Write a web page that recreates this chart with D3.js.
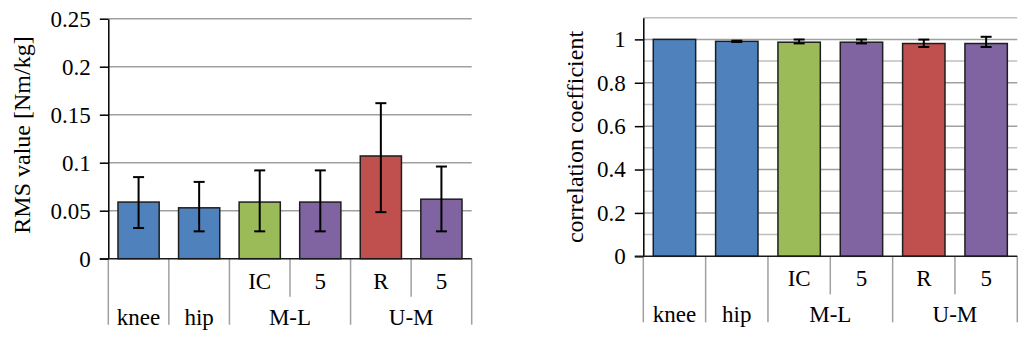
<!DOCTYPE html>
<html>
<head>
<meta charset="utf-8">
<script src="https://cdn.jsdelivr.net/npm/d3@7"></script>
<style>
  html, body { margin: 0; padding: 0; background: #fff; }
  svg { display: block; }
  text { font-family: "Liberation Serif", "Times New Roman", serif; fill: #000; }
</style>
</head>
<body>
<svg id="chart" width="1024" height="337"></svg>
<script>
// ---------- data ----------
const categories   = ["knee", "hip", "M-L IC", "M-L 5", "U-M R", "U-M 5"];
const subLabels    = ["", "", "IC", "5", "R", "5"];
const groupLabels  = ["knee", "hip", "M-L", "U-M"];
const groupSpans   = [1, 1, 2, 2];
const barColors    = ["#4f81bd", "#4f81bd", "#9bbb59", "#8064a2", "#c0504d", "#8064a2"];

// left panel: RMS value [Nm/kg]
const rmsValues    = [0.059, 0.053, 0.059, 0.059, 0.107, 0.062];
const rmsLow       = [0.032, 0.0285, 0.0285, 0.0285, 0.0485, 0.0285];
const rmsHigh      = [0.085, 0.080, 0.092, 0.092, 0.162, 0.096];
const rmsTicks     = [0, 0.05, 0.1, 0.15, 0.2, 0.25];

// right panel: correlation coefficient
const corrValues   = [1.0, 0.991, 0.987, 0.987, 0.981, 0.981];
const corrLow      = [1.0, 0.988, 0.9815, 0.9815, 0.965, 0.965];
const corrHigh     = [1.0, 0.994, 0.9995, 0.9995, 0.999, 1.012];
const corrTicks    = [0, 0.2, 0.4, 0.6, 0.8, 1];
const corrMinor    = [0.1, 0.3, 0.5, 0.7, 0.9, 1.1];

// ---------- drawing ----------
const svg = d3.select("#chart");
const FONT = 23;
const TITLE_FONT = 24;
const FAMILY = "'Liberation Serif', 'Times New Roman', serif";

function panel(opt) {
  const g = svg.append("g");
  const x = d3.scaleBand()
    .domain(d3.range(categories.length))
    .range([opt.x0, opt.x1])
    .paddingInner(0.32)
    .paddingOuter(0.16);
  const y = d3.scaleLinear().domain(opt.domain).range([opt.yZero, opt.yTop]);
  const step = x.step();
  const start = opt.x0;

  // minor gridlines
  if (opt.minor) {
    g.selectAll(".minor").data(opt.minor).join("line")
      .attr("x1", opt.x0).attr("x2", opt.x1)
      .attr("y1", d => y(d)).attr("y2", d => y(d))
      .attr("stroke", "#bfbfbf").attr("stroke-width", 1.5);
  }
  // major gridlines
  g.selectAll(".major").data(opt.ticks.filter(d => d !== 0)).join("line")
    .attr("x1", opt.x0).attr("x2", opt.x1)
    .attr("y1", d => y(d)).attr("y2", d => y(d))
    .attr("stroke", "#a0a0a0").attr("stroke-width", 1.5);

  // category divider lines
  const dividers = d3.range(categories.length + 1);
  const longIdx = [0];
  let acc = 0;
  groupSpans.forEach(s => { acc += s; longIdx.push(acc); });
  g.selectAll(".div").data(dividers).join("line")
    .attr("x1", i => start + i * step).attr("x2", i => start + i * step)
    .attr("y1", opt.yZero)
    .attr("y2", i => opt.yZero + (longIdx.includes(i) ? 66 : 38))
    .attr("stroke", "#a0a0a0").attr("stroke-width", 1.5);

  // bars
  g.selectAll(".bar").data(opt.values).join("rect")
    .attr("x", (d, i) => x(i))
    .attr("width", x.bandwidth())
    .attr("y", d => y(d))
    .attr("height", d => y(0) - y(d))
    .attr("fill", (d, i) => barColors[i])
    .attr("stroke", "#1e1e1e").attr("stroke-width", 1.5);

  // error bars
  const eb = g.selectAll(".eb").data(opt.values.map((v, i) => i)).join("g");
  eb.filter(i => opt.high[i] - opt.low[i] > 0.0005).each(function (i) {
    const e = d3.select(this);
    const cx = x(i) + x.bandwidth() / 2;
    const hw = 5.5;
    e.append("line").attr("x1", cx).attr("x2", cx)
      .attr("y1", y(opt.low[i])).attr("y2", y(opt.high[i]))
      .attr("stroke", "#000").attr("stroke-width", 2);
    [opt.low[i], opt.high[i]].forEach(v => {
      e.append("line").attr("x1", cx - hw).attr("x2", cx + hw)
        .attr("y1", y(v)).attr("y2", y(v))
        .attr("stroke", "#000").attr("stroke-width", 2);
    });
  });

  // y axis
  const axis = d3.axisLeft(y)
    .tickValues(opt.ticks)
    .tickFormat(d3.format("~g"))
    .tickSizeInner(8.5)
    .tickSizeOuter(0)
    .tickPadding(9);
  const ag = g.append("g").attr("transform", `translate(${opt.x0},0)`).call(axis);
  ag.attr("font-family", FAMILY).attr("font-size", FONT);
  ag.select(".domain").attr("stroke", "#000").attr("stroke-width", 1.5);
  ag.selectAll(".tick line").attr("stroke", "#000").attr("stroke-width", 1.5);
  ag.selectAll(".tick text")
    .style("font-family", FAMILY)
    .style("font-size", FONT + "px")
    .attr("fill", "#000");

  // x axis baseline
  g.append("line")
    .attr("x1", opt.x0 - 8.5).attr("x2", opt.x1)
    .attr("y1", y(0)).attr("y2", y(0))
    .attr("stroke", "#1a1a1a").attr("stroke-width", 1.5);

  // sub labels (row 1)
  g.selectAll(".sub").data(subLabels).join("text")
    .attr("x", (d, i) => start + (i + 0.5) * step)
    .attr("y", opt.yZero + 30)
    .attr("text-anchor", "middle")
    .style("font-family", FAMILY)
    .style("font-size", FONT + "px")
    .text(d => d);

  // group labels (row 2)
  let pos = 0;
  const gl = groupLabels.map((lab, k) => {
    const c = pos + groupSpans[k] / 2;
    pos += groupSpans[k];
    return { lab, c };
  });
  g.selectAll(".grp").data(gl).join("text")
    .attr("x", d => start + d.c * step)
    .attr("y", opt.yZero + 66)
    .attr("text-anchor", "middle")
    .style("font-family", FAMILY)
    .style("font-size", FONT + "px")
    .text(d => d.lab);

  // y axis title
  g.append("text")
    .attr("transform", `translate(${opt.titleX},${opt.titleY}) rotate(-90)`)
    .attr("text-anchor", "middle")
    .attr("dy", "0.35em")
    .style("font-family", FAMILY)
    .style("font-size", TITLE_FONT + "px")
    .text(opt.title);
}

panel({
  x0: 108.3, x1: 471.7, yTop: 18.7, yZero: 258.7,
  domain: [0, 0.25], ticks: rmsTicks,
  values: rmsValues, low: rmsLow, high: rmsHigh,
  title: "RMS value [Nm/kg]", titleX: 22, titleY: 135
});

panel({
  x0: 643.3, x1: 1017.3, yTop: 17.7, yZero: 256.3,
  domain: [0, 1.1], ticks: corrTicks, minor: corrMinor,
  values: corrValues, low: corrLow, high: corrHigh,
  title: "correlation coefficient", titleX: 575, titleY: 137
});
</script>
</body>
</html>
